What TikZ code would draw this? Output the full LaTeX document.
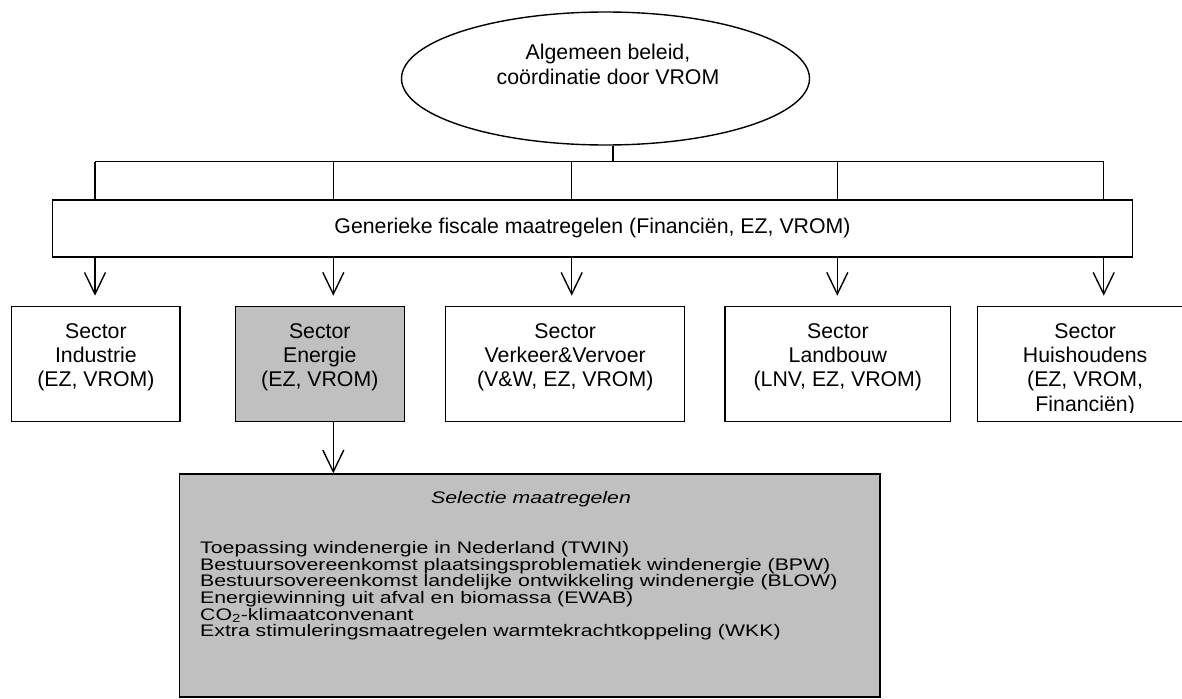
\documentclass[tikz,border=0pt]{standalone}
\usepackage{fontspec}
\setmainfont{Liberation Sans}
\newfontfamily\widefont[FakeStretch=1.27]{Liberation Sans}
\usetikzlibrary{shapes.geometric,arrows.meta}
\definecolor{boxgray}{RGB}{192,192,192}
\begin{document}
\begin{tikzpicture}[x=1pt,y=-1pt,
  lw/.style={line width=1.4pt},
  box/.style={draw, lw, rectangle, inner sep=0pt},
  gbox/.style={box, fill=boxgray},
  lbl/.style={inner sep=0pt, align=center, font=\fontsize{21.3}{24.2}\selectfont},
  conn/.style={lw},
  arr/.style={lw, -{Straight Barb[length=21.7pt, width=21pt]}},
  small/.style={inner sep=0pt, font=\widefont\fontsize{16.75}{16.6}\selectfont\setlength\lineskiplimit{-50pt}},
  smallit/.style={inner sep=0pt, font=\widefont\fontsize{16.75}{16.6}\selectfont\itshape},
]
\useasboundingbox (0,0) rectangle (1182,698);

% top ellipse
\node[draw, lw, ellipse, minimum width=408pt, minimum height=133pt, inner sep=0pt] (ell) at (605.5,78.5) {};
\node[lbl, anchor=north, font=\fontsize{21.3}{25}\selectfont] (elltxt) at (608,42)
  {\rule{0pt}{17pt}Algemeen beleid,\\coördinatie door VROM};

% generic bar
\node[box, minimum width=1079.6pt, minimum height=57pt] (bar) at (592.5,228.5) {};
\node[lbl, anchor=base] (bartxt) at (592.5,233) {Generieke fiscale maatregelen (Financiën, EZ, VROM)};

% sector boxes
\node[box,  minimum width=168.3pt, minimum height=115pt] (ind) at (95.85,364.2) {};
\node[gbox, minimum width=169pt,   minimum height=115pt] (ene) at (319.8,364.2) {};
\node[box,  minimum width=239pt,   minimum height=115pt] (ver) at (565.2,364.2) {};
\node[box,  minimum width=225.7pt, minimum height=115pt] (lan) at (837.85,364.2) {};
\node[box,  minimum width=215.7pt, minimum height=115pt] (hui) at (1085.15,364.2) {};

\node[lbl, anchor=north] (indtxt) at (95.85,321.3) {\rule{0pt}{17pt}Sector\\Industrie\\(EZ, VROM)};
\node[lbl, anchor=north] (enetxt) at (319.8,321.3) {\rule{0pt}{17pt}Sector\\Energie\\(EZ, VROM)};
\node[lbl, anchor=north] (vertxt) at (565.2,321.3) {\rule{0pt}{17pt}Sector\\Verkeer\&Vervoer\\(V\&W, EZ, VROM)};
\node[lbl, anchor=north] (lantxt) at (837.85,321.3) {\rule{0pt}{17pt}Sector\\Landbouw\\(LNV, EZ, VROM)};
\begin{scope}
  \clip (977,300) rectangle (1193,412);
  \node[lbl, anchor=north] (huitxt) at (1085.15,321.3) {\rule{0pt}{17pt}Sector\\Huishoudens\\(EZ, VROM,\\Financiën)};
\end{scope}

% bottom box
\node[gbox, minimum width=700.7pt, minimum height=223pt] (sel) at (529.65,585.5) {};
\node[smallit, anchor=base] (seltitle) at (531,503.3) {Selectie maatregelen};
\node[small, align=left, anchor=north west] (list) at (200,539.5)
  {\rule{0pt}{14pt}Toepassing windenergie in Nederland (TWIN)\\
   Bestuursovereenkomst plaatsingsproblematiek windenergie (BPW)\\
   Bestuursovereenkomst landelijke ontwikkeling windenergie (BLOW)\\
   Energiewinning uit afval en biomassa (EWAB)\\
   CO\textsubscript{2}-klimaatconvenant\\
   Extra stimuleringsmaatregelen warmtekrachtkoppeling (WKK)};

% connectors
\coordinate (c1) at (95,161.7);
\coordinate (c2) at (333.3,161.7);
\coordinate (c3) at (571.7,161.7);
\coordinate (c4) at (837.3,161.7);
\coordinate (c5) at (1103.7,161.7);
\coordinate (cs) at (613,161.7);
\coordinate (t1) at (95,295.7);
\coordinate (t2) at (333.3,295.7);
\coordinate (t3) at (571.7,295.7);
\coordinate (t4) at (837.3,295.7);
\coordinate (t5) at (1103.7,295.7);

\draw[conn] (ell.south -| cs) -- (cs);
\draw[conn] (c1) -- (c5);
\foreach \i in {1,...,5} {
  \draw[conn] (c\i) -- (c\i |- bar.north);
  \draw[arr] (c\i |- bar.south) -- (t\i);
}
\draw[arr] (c2 |- ene.south) -- (c2 |- sel.north);
\end{tikzpicture}
\end{document}
